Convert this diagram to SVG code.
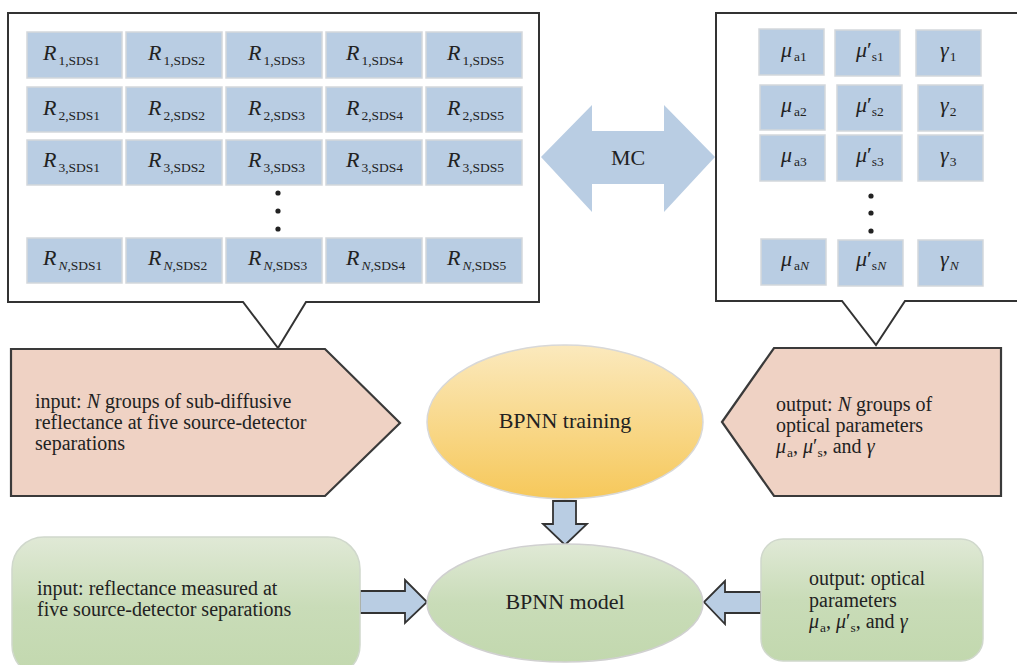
<svg xmlns="http://www.w3.org/2000/svg" width="1017" height="665" viewBox="0 0 1017 665" font-family="'Liberation Serif', 'DejaVu Serif', serif">
<style>
text, tspan{font-family:'Liberation Serif','DejaVu Serif',serif;}
text{fill:#222;}
.cell{fill:#b9cde3;stroke:#d3d7db;stroke-width:1.5;}
.call{fill:#fff;stroke:#333;stroke-width:2;}
.pink{fill:#efd2c4;stroke:#3a3a3a;stroke-width:2.2;}
.arr{fill:#b9cde3;stroke:#333;stroke-width:1.8;}
.t{font-size:20px;}
.big{font-size:22px;}
.ct{font-size:22px;}
.m{font-style:italic;}
.sub{font-size:13.5px;}
</style>
<defs>
<linearGradient id="gy" x1="0" y1="0" x2="0" y2="1">
<stop offset="0" stop-color="#fbe9bd"/>
<stop offset="1" stop-color="#f6c85a"/>
</linearGradient>
<linearGradient id="gg" x1="0" y1="0" x2="0" y2="1">
<stop offset="0" stop-color="#e0e9d6"/>
<stop offset="0.5" stop-color="#c9dcb8"/>
<stop offset="1" stop-color="#c2d8ae"/>
</linearGradient>
</defs>
<rect width="1017" height="665" fill="#fff"/>

<g id="input-matrix">
<path class="call" d="M8,13 H539 V302 H306 L278,348 L243,302 H8 Z"/>
<g id="cells-left">
<rect class="cell" x="27" y="32" width="95" height="46"/><rect class="cell" x="126" y="32" width="96" height="46"/><rect class="cell" x="226" y="32" width="96" height="46"/><rect class="cell" x="326" y="32" width="96" height="46"/><rect class="cell" x="426" y="32" width="96" height="46"/>
<rect class="cell" x="27" y="87" width="95" height="45"/><rect class="cell" x="126" y="87" width="96" height="45"/><rect class="cell" x="226" y="87" width="96" height="45"/><rect class="cell" x="326" y="87" width="96" height="45"/><rect class="cell" x="426" y="87" width="96" height="45"/>
<rect class="cell" x="27" y="140" width="95" height="45"/><rect class="cell" x="126" y="140" width="96" height="45"/><rect class="cell" x="226" y="140" width="96" height="45"/><rect class="cell" x="326" y="140" width="96" height="45"/><rect class="cell" x="426" y="140" width="96" height="45"/>
<rect class="cell" x="27" y="238" width="95" height="45"/><rect class="cell" x="126" y="238" width="96" height="45"/><rect class="cell" x="226" y="238" width="96" height="45"/><rect class="cell" x="326" y="238" width="96" height="45"/><rect class="cell" x="426" y="238" width="96" height="45"/>
</g>
<g id="labels-left" class="ct">
<text x="43" y="60"><tspan class="m">R</tspan><tspan class="sub" dx="2" dy="5">1,SDS1</tspan></text>
<text x="148" y="60"><tspan class="m">R</tspan><tspan class="sub" dx="2" dy="5">1,SDS2</tspan></text>
<text x="248" y="60"><tspan class="m">R</tspan><tspan class="sub" dx="2" dy="5">1,SDS3</tspan></text>
<text x="346" y="60"><tspan class="m">R</tspan><tspan class="sub" dx="2" dy="5">1,SDS4</tspan></text>
<text x="447" y="60"><tspan class="m">R</tspan><tspan class="sub" dx="2" dy="5">1,SDS5</tspan></text>
<text x="43" y="115"><tspan class="m">R</tspan><tspan class="sub" dx="2" dy="5">2,SDS1</tspan></text>
<text x="148" y="115"><tspan class="m">R</tspan><tspan class="sub" dx="2" dy="5">2,SDS2</tspan></text>
<text x="248" y="115"><tspan class="m">R</tspan><tspan class="sub" dx="2" dy="5">2,SDS3</tspan></text>
<text x="346" y="115"><tspan class="m">R</tspan><tspan class="sub" dx="2" dy="5">2,SDS4</tspan></text>
<text x="447" y="115"><tspan class="m">R</tspan><tspan class="sub" dx="2" dy="5">2,SDS5</tspan></text>
<text x="43" y="167"><tspan class="m">R</tspan><tspan class="sub" dx="2" dy="5">3,SDS1</tspan></text>
<text x="148" y="167"><tspan class="m">R</tspan><tspan class="sub" dx="2" dy="5">3,SDS2</tspan></text>
<text x="248" y="167"><tspan class="m">R</tspan><tspan class="sub" dx="2" dy="5">3,SDS3</tspan></text>
<text x="346" y="167"><tspan class="m">R</tspan><tspan class="sub" dx="2" dy="5">3,SDS4</tspan></text>
<text x="447" y="167"><tspan class="m">R</tspan><tspan class="sub" dx="2" dy="5">3,SDS5</tspan></text>
<text x="43" y="265"><tspan class="m">R</tspan><tspan class="sub m" dx="2" dy="5">N</tspan><tspan class="sub">,SDS1</tspan></text>
<text x="148" y="265"><tspan class="m">R</tspan><tspan class="sub m" dx="2" dy="5">N</tspan><tspan class="sub">,SDS2</tspan></text>
<text x="248" y="265"><tspan class="m">R</tspan><tspan class="sub m" dx="2" dy="5">N</tspan><tspan class="sub">,SDS3</tspan></text>
<text x="346" y="265"><tspan class="m">R</tspan><tspan class="sub m" dx="2" dy="5">N</tspan><tspan class="sub">,SDS4</tspan></text>
<text x="447" y="265"><tspan class="m">R</tspan><tspan class="sub m" dx="2" dy="5">N</tspan><tspan class="sub">,SDS5</tspan></text>
</g>
<g fill="#222"><circle cx="278" cy="193" r="2.6"/><circle cx="278" cy="211" r="2.6"/><circle cx="278" cy="229" r="2.6"/></g>
</g>

<g id="output-matrix">
<path class="call" d="M716,13 H1022 V301 H905 L876,345 L842,301 H716 Z"/>
<g id="cells-right">
<rect class="cell" x="759" y="29" width="65" height="46"/><rect class="cell" x="835" y="30" width="65" height="46"/><rect class="cell" x="916" y="30" width="65" height="46"/>
<rect class="cell" x="760" y="85" width="65" height="45"/><rect class="cell" x="837" y="85" width="65" height="46"/><rect class="cell" x="918" y="85" width="65" height="46"/>
<rect class="cell" x="760" y="135" width="65" height="46"/><rect class="cell" x="837" y="135" width="65" height="46"/><rect class="cell" x="918" y="135" width="65" height="46"/>
<rect class="cell" x="761" y="239" width="65" height="46"/><rect class="cell" x="838" y="240" width="65" height="46"/><rect class="cell" x="918" y="240" width="65" height="46"/>
</g>
<g id="labels-right" class="ct">
<text x="781" y="57"><tspan class="m">μ</tspan><tspan class="sub" dx="2" dy="4">a1</tspan></text>
<text x="856" y="57"><tspan class="m">μ</tspan><tspan>′</tspan><tspan class="sub" dy="4">s1</tspan></text>
<text x="940" y="57"><tspan class="m">γ</tspan><tspan class="sub" dx="1" dy="4">1</tspan></text>
<text x="781" y="112"><tspan class="m">μ</tspan><tspan class="sub" dx="2" dy="4">a2</tspan></text>
<text x="856" y="112"><tspan class="m">μ</tspan><tspan>′</tspan><tspan class="sub" dy="4">s2</tspan></text>
<text x="940" y="112"><tspan class="m">γ</tspan><tspan class="sub" dx="1" dy="4">2</tspan></text>
<text x="781" y="162"><tspan class="m">μ</tspan><tspan class="sub" dx="2" dy="4">a3</tspan></text>
<text x="856" y="162"><tspan class="m">μ</tspan><tspan>′</tspan><tspan class="sub" dy="4">s3</tspan></text>
<text x="940" y="162"><tspan class="m">γ</tspan><tspan class="sub" dx="1" dy="4">3</tspan></text>
<text x="781" y="266"><tspan class="m">μ</tspan><tspan class="sub" dx="2" dy="4">a</tspan><tspan class="sub m">N</tspan></text>
<text x="856" y="266"><tspan class="m">μ</tspan><tspan>′</tspan><tspan class="sub" dy="4">s</tspan><tspan class="sub m">N</tspan></text>
<text x="940" y="266"><tspan class="m">γ</tspan><tspan class="sub m" dx="1" dy="4">N</tspan></text>
</g>
<g fill="#222"><circle cx="871" cy="196" r="2.6"/><circle cx="871" cy="213" r="2.6"/><circle cx="871" cy="231" r="2.6"/></g>
</g>

<g id="connectors">
<g id="mc-arrow">
<path fill="#b9cde3" d="M541,157 L592,105 V131 H664 V105 L715,157 L664,212 V184 H592 V212 Z"/>
<text x="628" y="165" class="big" text-anchor="middle">MC</text>
</g>
<path id="arrow-training-model" class="arr" d="M553,501 H576 V524 H587 L565,545 L543,524 H553 Z"/>
<path id="arrow-input-model" class="arr" d="M360,591 H405 V580 L427,602 L405,623 V613 H360 Z"/>
<path id="arrow-output-model" class="arr" d="M761,592 H725 V581 L704,602 L725,624 V613 H761 Z"/>
</g>

<g id="input-training">
<path class="pink" d="M11,349 H325 L400,423 L325,496 H11 Z"/>
<text class="t" x="35" y="408">input: <tspan class="m">N</tspan> groups of sub-diffusive</text>
<text class="t" x="35" y="429">reflectance at five source-detector</text>
<text class="t" x="35" y="450">separations</text>
</g>

<g id="output-training">
<path class="pink" d="M722,422 L774,348 H1001 V496 H774 Z"/>
<text class="t" x="776" y="411">output: <tspan class="m">N</tspan> groups of</text>
<text class="t" x="776" y="432">optical parameters</text>
<text class="t" x="776" y="453"><tspan class="m">μ</tspan><tspan class="sub" dx="1" dy="4">a</tspan><tspan dy="-4">, </tspan><tspan class="m">μ</tspan><tspan>′</tspan><tspan class="sub" dy="4">s</tspan><tspan dy="-4">, and </tspan><tspan class="m">γ</tspan></text>
</g>

<g id="bpnn-training">
<ellipse cx="565" cy="422" rx="138" ry="77" fill="url(#gy)" stroke="#d8d8d8" stroke-width="1.5"/>
<text class="big" x="565" y="428" text-anchor="middle">BPNN training</text>
</g>

<g id="bpnn-model">
<ellipse cx="565" cy="603" rx="138" ry="59" fill="url(#gg)" stroke="#d0d0d0" stroke-width="1.5"/>
<text class="big" x="565" y="609" text-anchor="middle">BPNN model</text>
</g>

<g id="input-measured">
<rect x="12" y="537" width="348" height="140" rx="32" fill="url(#gg)" stroke="#d0d8cc" stroke-width="1.5"/>
<text class="t" x="37" y="595">input: reflectance measured at</text>
<text class="t" x="37" y="616">five source-detector separations</text>
</g>

<g id="output-measured">
<rect x="761" y="539" width="222" height="122" rx="22" fill="url(#gg)" stroke="#d0d8cc" stroke-width="1.5"/>
<text class="t" x="809" y="585">output: optical</text>
<text class="t" x="809" y="607">parameters</text>
<text class="t" x="809" y="628"><tspan class="m">μ</tspan><tspan class="sub" dx="1" dy="4">a</tspan><tspan dy="-4">, </tspan><tspan class="m">μ</tspan><tspan>′</tspan><tspan class="sub" dy="4">s</tspan><tspan dy="-4">, and </tspan><tspan class="m">γ</tspan></text>
</g>
</svg>
